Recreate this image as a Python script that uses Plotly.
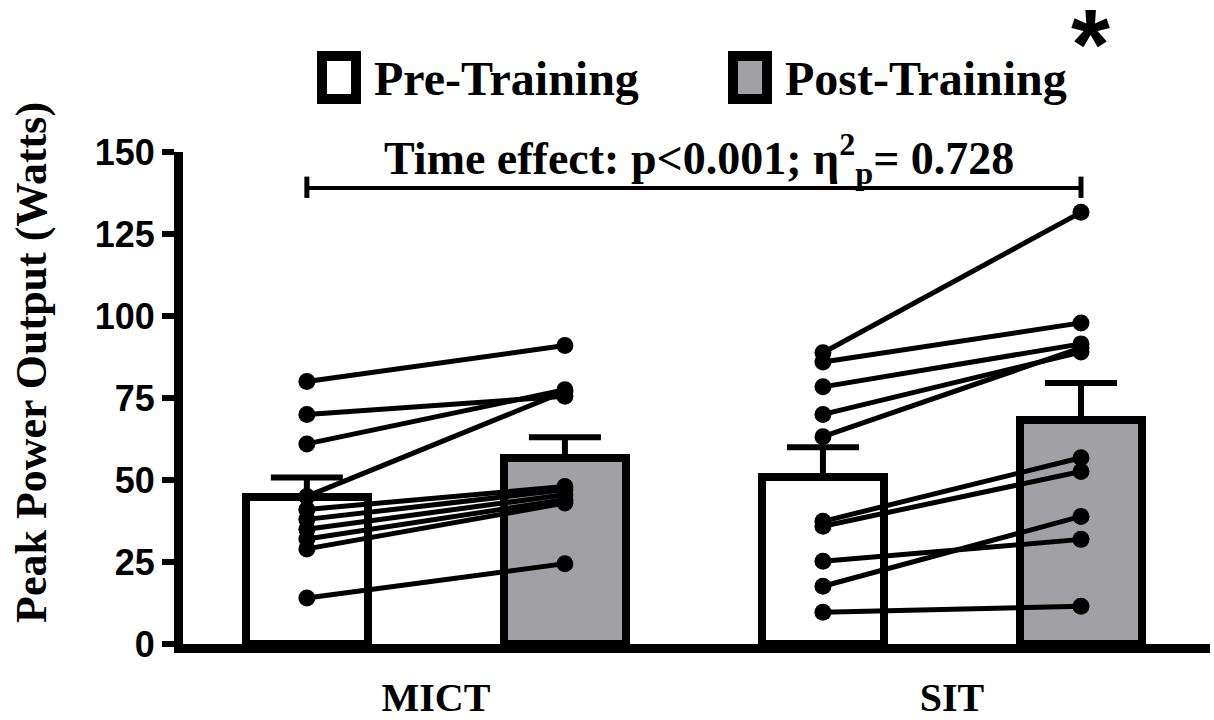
import plotly.graph_objects as go

# ---- data ----
groups = ["MICT", "SIT"]
conditions = ["Pre-Training", "Post-Training"]
bar_x = [0, 1, 2, 3]
bar_means = [44.7, 56.8, 51.0, 68.4]
bar_sem = [6.1, 6.2, 9.0, 11.2]
bar_colors = ["#ffffff", "#a1a1a5", "#ffffff", "#a1a1a5"]

mict_pre = [80, 70, 61, 45, 41, 38, 35, 32, 29, 14]
mict_post = [91, 75.5, 77.5, 77, 48, 47, 45.5, 44, 43, 24.5]
sit_pre = [88.8, 86, 78.4, 70, 63.2, 37.4, 35.9, 25.2, 17.6, 9.7]
sit_post = [131.6, 97.9, 91.5, 89, 90.3, 56.8, 52.6, 31.9, 38.9, 11.5]

y_ticks = [0, 25, 50, 75, 100, 125, 150]

# ---- layout geometry (pixels) ----
W, H = 1214, 720
L, R, T, B = 183, 4, 152, 76
pw, ph = W - L - R, H - T - B


def px(x):
    return (x - L) / pw


def py(y):
    return (H - B - y) / ph


fig = go.Figure()

fig.add_trace(go.Bar(
    x=bar_x, y=bar_means, width=0.47,
    marker=dict(color=bar_colors, line=dict(color="black", width=8)),
    error_y=dict(type="data", array=bar_sem, arrayminus=[0] * 4, symmetric=False,
                 color="black", thickness=6, width=36),
    showlegend=False, hoverinfo="skip",
))

for pre_x, pre, post in [(0, mict_pre, mict_post), (2, sit_pre, sit_post)]:
    for a, b in zip(pre, post):
        fig.add_trace(go.Scatter(
            x=[pre_x, pre_x + 1], y=[a, b], mode="lines+markers",
            line=dict(color="black", width=5),
            marker=dict(color="black", size=17),
            showlegend=False, hoverinfo="skip",
        ))

serif = "Liberation Serif"
shapes = []
# legend boxes
for x0, fill in [(322, "#ffffff"), (733, "#a1a1a5")]:
    shapes.append(dict(type="rect", xref="paper", yref="paper",
                       x0=px(x0), x1=px(x0 + 34), y0=py(56), y1=py(99),
                       fillcolor=fill, line=dict(color="black", width=10)))
# significance bracket
shapes.append(dict(type="line", xref="x", yref="y", x0=0, x1=3, y0=139, y1=139,
                   line=dict(color="black", width=4)))
for xx in [0, 3]:
    shapes.append(dict(type="line", xref="x", yref="y", x0=xx, x1=xx, y0=136, y1=142.5,
                       line=dict(color="black", width=5)))

annotations = [
    dict(text="Pre-Training", x=px(372), y=py(78), xref="paper", yref="paper",
         xanchor="left", yanchor="middle", showarrow=False,
         font=dict(family=serif, size=48, color="black", weight="bold")),
    dict(text="Post-Training", x=px(783), y=py(78), xref="paper", yref="paper",
         xanchor="left", yanchor="middle", showarrow=False,
         font=dict(family=serif, size=48, color="black", weight="bold")),
    dict(text="*", x=px(1090), y=py(44), xref="paper", yref="paper",
         xanchor="center", yanchor="middle", showarrow=False, height=70, valign="middle",
         font=dict(family="Liberation Sans", size=100, color="black", weight="bold")),
    dict(text="Time effect: p<0.001; η<sup>2</sup><sub>p</sub>= 0.728", x=px(699), y=py(158),
         xref="paper", yref="paper", xanchor="center", yanchor="middle", showarrow=False,
         font=dict(family=serif, size=46, color="black", weight="bold")),
    dict(text="Peak Power Output (Watts)", x=px(31), y=py(363), xref="paper", yref="paper",
         xanchor="center", yanchor="middle", textangle=-90, showarrow=False,
         font=dict(family=serif, size=44, color="black", weight="bold")),
]

fig.update_layout(
    width=W, height=H,
    margin=dict(l=L, r=R, t=T, b=B, pad=0, autoexpand=False),
    plot_bgcolor="white", paper_bgcolor="white",
    showlegend=False, bargap=0,
    shapes=shapes, annotations=annotations,
    xaxis=dict(range=[-0.48, 3.5], showgrid=False, zeroline=False, automargin=False,
               showline=True, linecolor="black", linewidth=9,
               tickmode="array", tickvals=[0.5, 2.5], ticktext=groups, ticks="",
               ticklabelstandoff=10,
               tickfont=dict(family=serif, size=40, color="black", weight="bold")),
    yaxis=dict(range=[0, 150], showgrid=False, zeroline=False, automargin=False,
               showline=True, linecolor="black", linewidth=9,
               tickmode="array", tickvals=y_ticks, ticks="outside", ticklen=12,
               tickwidth=6, tickcolor="black",
               tickfont=dict(family="Liberation Sans", size=36, color="black", weight="bold")),
)

fig.write_html("out.html", config={"displayModeBar": False},
               post_script="document.body.style.margin='0';document.body.style.overflow='hidden';")
